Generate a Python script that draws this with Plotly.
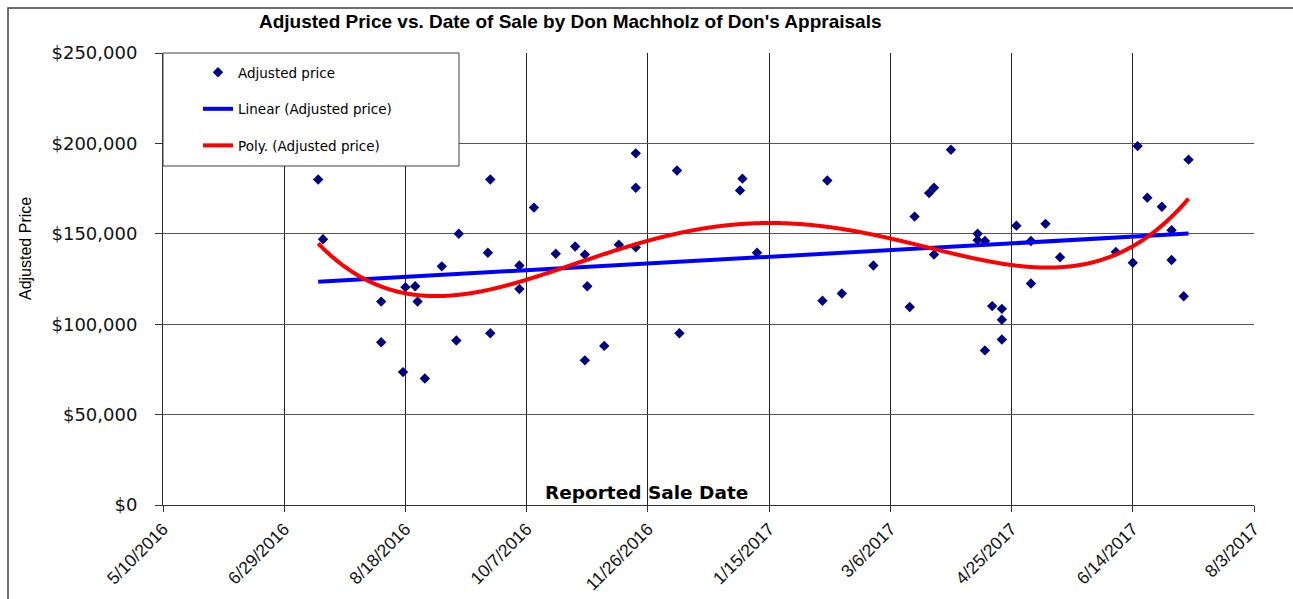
import numpy as np
import pandas as pd
import plotly.graph_objects as go

sale_dates = [
    "2016-07-13", "2016-07-15", "2016-08-08", "2016-08-08", "2016-08-17",
    "2016-08-18", "2016-08-22", "2016-08-23", "2016-08-26", "2016-09-02",
    "2016-09-09", "2016-09-08", "2016-09-22", "2016-09-21", "2016-09-22",
    "2016-10-04", "2016-10-04", "2016-10-10", "2016-10-19", "2016-10-27",
    "2016-10-31", "2016-11-01", "2016-10-31", "2016-11-08", "2016-11-14",
    "2016-11-21", "2016-11-21", "2016-11-21", "2016-12-08", "2016-12-09",
    "2017-01-04", "2017-01-03", "2017-01-10", "2017-02-08", "2017-02-06",
    "2017-02-14", "2017-02-27", "2017-03-14", "2017-03-16", "2017-03-22",
    "2017-03-24", "2017-03-24", "2017-03-31", "2017-04-11", "2017-04-11",
    "2017-04-14", "2017-04-14", "2017-04-17", "2017-04-21", "2017-04-21",
    "2017-04-21", "2017-04-27", "2017-05-03", "2017-05-03", "2017-05-09",
    "2017-05-15", "2017-06-07", "2017-06-14", "2017-06-16", "2017-06-20",
    "2017-06-26", "2017-06-30", "2017-06-30", "2017-07-05", "2017-07-07",
]
adjusted_prices = [
    180000, 147000, 112500, 90000, 73500,
    120500, 121000, 112500, 70000, 132000,
    150000, 91000, 180000, 139500, 95000,
    132500, 119500, 164500, 139000, 143000,
    138500, 121000, 80000, 88000, 144000,
    142500, 194500, 175500, 185000, 95000,
    180500, 174000, 139500, 179500, 113000,
    117000, 132500, 109500, 159500, 172500,
    175500, 138500, 196500, 150000, 146500,
    146000, 85500, 110000, 108500, 102500,
    91500, 154500, 146000, 122500, 155500,
    137000, 140000, 134000, 198500, 170000,
    165000, 152000, 135500, 115500, 191000,
]
tick_dates = ["2016-05-10", "2016-06-29", "2016-08-18", "2016-10-07", "2016-11-26",
              "2017-01-15", "2017-03-06", "2017-04-25", "2017-06-14", "2017-08-03"]
tick_labels = ["5/10/2016", "6/29/2016", "8/18/2016", "10/7/2016", "11/26/2016",
               "1/15/2017", "3/6/2017", "4/25/2017", "6/14/2017", "8/3/2017"]
price_ticks = [0, 50000, 100000, 150000, 200000, 250000]
price_labels = ["$0", "$50,000", "$100,000", "$150,000", "$200,000", "$250,000"]

# trendlines fitted to the data (as Excel does)
d = pd.to_datetime(pd.Series(sale_dates))
t0 = d.min()
days = (d - t0).dt.total_seconds().to_numpy() / 86400.0
y = np.array(adjusted_prices, dtype=float)
tt = np.linspace(days.min(), days.max(), 600)
tdates = t0 + pd.to_timedelta(tt, unit="D")
lin = np.polyval(np.polyfit(days, y, 1), tt)
poly = np.polyval(np.polyfit(days, y, 4), tt)

W, H = 1293, 599
L, R, T, B = 163, 39, 53, 94
pw, ph = W - L - R, H - T - B
def px(xp):
    return (xp - L) / pw
def py(yp):
    return (H - B - yp) / ph

fig = go.Figure()
fig.add_trace(go.Scatter(x=sale_dates, y=adjusted_prices, mode="markers",
                         name="Adjusted price", legendgroup="a",
                         marker=dict(symbol="diamond", size=8, color="#000080")))
fig.add_trace(go.Scatter(x=tdates, y=lin, mode="lines", name="Linear (Adjusted price)",
                         legendgroup="b", line=dict(color="#0000FF", width=4)))
fig.add_trace(go.Scatter(x=tdates, y=poly, mode="lines", name="Poly. (Adjusted price)",
                         legendgroup="c", line=dict(color="#FF0000", width=4, shape="spline")))

fig.update_layout(
    width=W, height=H,
    margin=dict(l=L, r=R, t=T, b=B, autoexpand=False),
    paper_bgcolor="white", plot_bgcolor="white",
    font=dict(family="DejaVu Sans", color="#000"),
    showlegend=True,
    legend=dict(x=px(198), y=py(57), xanchor="left", yanchor="top",
                bgcolor="rgba(0,0,0,0)", borderwidth=0,
                font=dict(family="DejaVu Sans", size=13.5, color="#000"),
                tracegroupgap=16, itemwidth=30),
    xaxis=dict(type="date", range=[tick_dates[0], tick_dates[-1]], automargin=False,
               tickmode="array", tickvals=tick_dates, ticktext=tick_labels,
               tickangle=-45, tickfont=dict(family="Liberation Sans", size=17.5, color="#111"),
               showgrid=True, gridcolor="#222", gridwidth=1,
               showline=True, linecolor="#333", linewidth=1,
               ticks="outside", ticklen=6, tickcolor="#333", zeroline=False),
    yaxis=dict(range=[0, 250000], automargin=False, tickmode="array",
               tickvals=price_ticks, ticktext=price_labels, ticklabelstandoff=14,
               tickfont=dict(family="DejaVu Sans", size=18, color="#111"),
               showgrid=True, gridcolor="#555", gridwidth=1,
               showline=True, linecolor="#333", linewidth=1,
               ticks="outside", ticklen=7, tickcolor="#333", zeroline=False),
    shapes=[
        dict(type="rect", xref="paper", yref="paper",
             x0=px(8), x1=px(1310), y0=py(8), y1=py(620),
             line=dict(color="#404040", width=1.5), fillcolor="rgba(0,0,0,0)", layer="below"),
        dict(type="rect", xref="paper", yref="paper",
             x0=px(163), x1=px(459), y0=py(53), y1=py(166),
             line=dict(color="#404040", width=1), fillcolor="white", layer="above"),
    ],
    annotations=[
        dict(text="<b>Adjusted Price vs. Date of Sale by Don Machholz of Don's Appraisals</b>",
             xref="paper", yref="paper", x=px(570), y=py(22), showarrow=False,
             xanchor="center", yanchor="middle",
             font=dict(family="Liberation Sans", size=19, color="#000")),
        dict(text="<b>Reported Sale Date</b>", xref="paper", yref="paper",
             x=px(646), y=py(492), showarrow=False, xanchor="center", yanchor="middle",
             font=dict(family="DejaVu Sans", size=18.5, color="#000")),
        dict(text="Adjusted Price", xref="paper", yref="paper", textangle=-90,
             x=px(25), y=py(249), showarrow=False, xanchor="center", yanchor="middle",
             font=dict(family="Liberation Sans", size=16, color="#000")),
    ],
)

fig.write_html("out.html", config={"displayModeBar": False},
               post_script="document.body.style.margin='0';document.body.style.overflow='hidden';")
